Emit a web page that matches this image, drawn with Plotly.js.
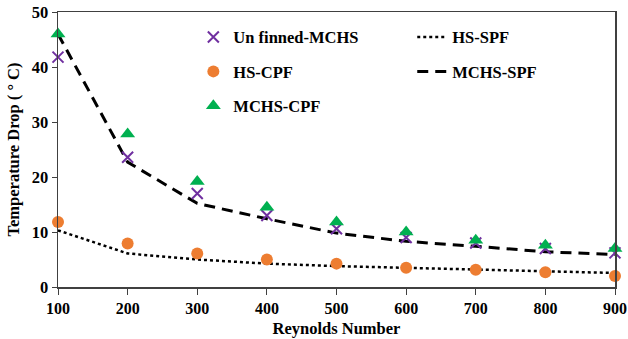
<!DOCTYPE html>
<html>
<head>
<meta charset="utf-8">
<script src="https://cdn.plot.ly/plotly-3.0.1.min.js"></script>
<style>html,body{margin:0;padding:0;background:#fff;}#chart{width:628px;height:339px;}</style>
</head>
<body>
<div id="chart"></div>
<script>
var reynolds = [100, 200, 300, 400, 500, 600, 700, 800, 900];
var unfinnedMCHS = [41.8, 23.6, 17.0, 13.0, 10.6, 9.0, 8.0, 7.0, 6.2];
var hsCPF = [11.8, 7.9, 6.1, 5.0, 4.25, 3.5, 3.15, 2.7, 2.0];
var mchsCPF = [46.0, 27.8, 19.2, 14.5, 11.8, 10.0, 8.5, 7.6, 7.0];
var hsSPF = [10.3, 6.1, 5.0, 4.25, 3.8, 3.5, 3.2, 2.85, 2.55];
var mchsSPF = [46.0, 22.7, 15.2, 12.4, 9.8, 8.3, 7.4, 6.4, 5.9];

var FONT = 'Liberation Serif, Times New Roman, serif';

var traces = [
  {x: reynolds, y: hsSPF, name: 'HS-SPF', mode: 'lines', legend: 'legend2', legendgroup: 'd',
   line: {color: '#000', width: 2.5, dash: 'dot'}},
  {x: reynolds, y: mchsSPF, name: 'MCHS-SPF', mode: 'lines', legend: 'legend2', legendgroup: 'e',
   line: {color: '#000', width: 3, dash: '11px,7px'}},
  {x: reynolds, y: hsCPF, name: 'HS-CPF', mode: 'markers', legendgroup: 'b', legendrank: 2,
   marker: {color: '#ED7D31', size: 12, symbol: 'circle'}, cliponaxis: false},
  {x: reynolds, y: unfinnedMCHS, name: 'Un finned-MCHS', mode: 'markers', legendgroup: 'a', legendrank: 1,
   marker: {color: '#7030A0', size: 11, symbol: 'x-thin', line: {color: '#7030A0', width: 2}}, cliponaxis: false},
  {x: reynolds, y: mchsCPF, name: 'MCHS-CPF', mode: 'markers', legendgroup: 'c', legendrank: 3,
   marker: {color: '#00B050', size: 13, symbol: 'triangle-up'}, cliponaxis: false}
];

var layout = {
  width: 628, height: 339,
  margin: {l: 58, r: 13, t: 12, b: 52},
  paper_bgcolor: '#fff', plot_bgcolor: '#fff',
  font: {family: FONT, color: '#000'},
  showlegend: true,
  xaxis: {
    range: [100, 900], tickvals: reynolds, ticktext: reynolds.map(String),
    showgrid: false, zeroline: false,
    showline: true, linecolor: '#404040', linewidth: 1.5, mirror: true,
    ticks: 'outside', ticklen: 6, tickcolor: '#404040', automargin: false,
    tickfont: {family: FONT, size: 16, weight: 'bold', color: '#000'},
    title: {text: 'Reynolds Number', font: {family: FONT, size: 16.5, weight: 'bold', color: '#000'}, standoff: 6}
  },
  yaxis: {
    range: [0, 50], dtick: 10,
    showgrid: false, zeroline: false,
    showline: true, linecolor: '#404040', linewidth: 1.5, mirror: true,
    ticks: 'outside', ticklen: 5, tickcolor: '#404040',
    tickfont: {family: FONT, size: 16.5, weight: 'bold', color: '#000'},
    title: {text: 'Temperature Drop ( ° C)', font: {family: FONT, size: 16.5, weight: 'bold', color: '#000'}, standoff: 8}
  },
  legend: {
    x: 0.243, y: 0.972, xanchor: 'left', yanchor: 'top', orientation: 'v',
    traceorder: 'grouped', tracegroupgap: 10, bgcolor: 'rgba(0,0,0,0)',
    font: {family: FONT, size: 16.5, weight: 'bold', color: '#000'}
  },
  legend2: {
    x: 0.636, y: 0.972, xanchor: 'left', yanchor: 'top', orientation: 'v',
    traceorder: 'grouped', tracegroupgap: 10, bgcolor: 'rgba(0,0,0,0)',
    font: {family: FONT, size: 16.5, weight: 'bold', color: '#000'}
  }
};

Plotly.newPlot('chart', traces, layout, {displayModeBar: false, staticPlot: true});
</script>
</body>
</html>
